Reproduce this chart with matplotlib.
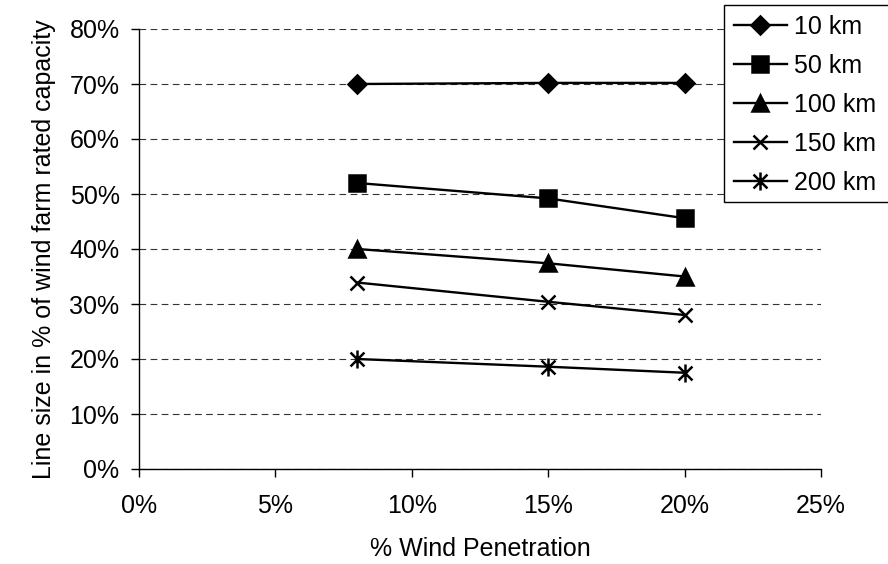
import matplotlib
matplotlib.use('Agg')
import matplotlib.pyplot as plt
from matplotlib.patches import Rectangle
from matplotlib.path import Path
from matplotlib.ticker import PercentFormatter

# data (% wind penetration vs line size in % of rated capacity)
penetration = [8, 15, 20]
series_labels = ['10 km', '50 km', '100 km', '150 km', '200 km']
line_10km = [70.0, 70.2, 70.2]
line_50km = [52.0, 49.2, 45.6]
line_100km = [40.0, 37.4, 35.0]
line_150km = [33.9, 30.4, 28.0]
line_200km = [20.0, 18.6, 17.5]
x_ticks = [0, 5, 10, 15, 20, 25]
y_ticks = [0, 10, 20, 30, 40, 50, 60, 70, 80]

plt.rcParams['font.family'] = ['Liberation Sans', 'DejaVu Sans']
plt.rcParams['font.size'] = 18

# Excel style asterisk: an x with a vertical bar through it
asterisk = Path([(-1, -1), (1, 1), (-1, 1), (1, -1), (0, -1.3), (0, 1.3)],
                [Path.MOVETO, Path.LINETO, Path.MOVETO, Path.LINETO, Path.MOVETO, Path.LINETO])

fig = plt.figure(figsize=(8.88, 5.64), dpi=100)
ax = fig.add_axes([139 / 888, 1 - 469 / 564, (821 - 139) / 888, (469 - 29) / 564])

styles = [('D', 9.5), ('s', 11), ('^', 11), ('x', 10), (asterisk, 13)]
all_series = [line_10km, line_50km, line_100km, line_150km, line_200km]
for values, label, (marker, ms) in zip(all_series, series_labels, styles):
    ax.plot(penetration, values, color='black', linewidth=1.7, marker=marker,
            markersize=ms, markeredgewidth=1.8, label=label, clip_on=False)

ax.set_xlim(0, 25)
ax.set_ylim(0, 80)
ax.set_xticks(x_ticks)
ax.set_yticks(y_ticks)
ax.xaxis.set_major_formatter(PercentFormatter(decimals=0))
ax.yaxis.set_major_formatter(PercentFormatter(decimals=0))
ax.tick_params(direction='out', length=6, width=1, colors='black', labelsize=18)
ax.tick_params(axis='x', pad=12)
ax.tick_params(axis='y', pad=8)

ax.spines['top'].set_visible(False)
ax.spines['right'].set_visible(False)
ax.spines['left'].set_linewidth(1)
ax.spines['bottom'].set_linewidth(1)

ax.yaxis.grid(True, linestyle=(0, (6, 4)), color='#333333', linewidth=0.8)
ax.set_axisbelow(True)

ax.set_xlabel('% Wind Penetration', fontsize=18, labelpad=14)
ax.set_ylabel('Line size in % of wind farm rated capacity', fontsize=18, labelpad=10)

# legend frame runs off the right edge of the picture, like the original
fig.patches.append(Rectangle((724 / 888, 1 - 202 / 564), 0.25, (202 - 5) / 564,
                             transform=fig.transFigure, facecolor='white',
                             edgecolor='black', linewidth=1, zorder=3))
leg = fig.legend(loc='upper left', bbox_to_anchor=(724 / 888, 1 - 5 / 564),
                 frameon=False, handlelength=2.1, handletextpad=0.3, labelspacing=0.6,
                 borderpad=0.4, borderaxespad=0, fontsize=18)
leg.set_zorder(5)

plt.savefig('out.png', dpi=100)
